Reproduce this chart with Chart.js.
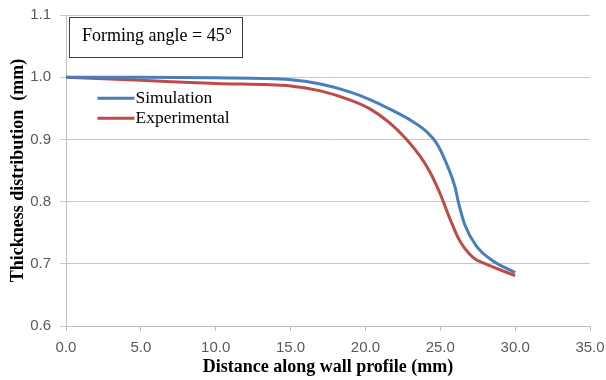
<!DOCTYPE html>
<html>
<head>
<meta charset="utf-8">
<script src="https://cdn.jsdelivr.net/npm/chart.js@4/dist/chart.umd.min.js"></script>
<style>
html,body{margin:0;padding:0;background:#fff}
#wrap{width:606px;height:380px}
</style>
</head>
<body>
<div id="wrap"><canvas id="c" width="606" height="380"></canvas></div>
<script>
// values
const simX=[0,5,10,15,17,19,20.3,21.6,23.0,24.1,24.75,25.4,26.0,26.2,26.65,27.4,28.5,30]
const simY=[1.000,1.000,0.999,0.996,0.989,0.976,0.964,0.949,0.931,0.912,0.894,0.862,0.822,0.800,0.762,0.729,0.705,0.686]
const expX=[0,5,10,15,17,19,20.3,21.6,22.75,23.65,24.3,24.95,25.2,25.65,26.3,27.2,28.1,30]
const expY=[1.000,0.995,0.990,0.986,0.978,0.963,0.949,0.927,0.900,0.873,0.848,0.815,0.800,0.772,0.737,0.710,0.699,0.681]
const seriesNames=['Simulation','Experimental']
const note='Forming angle = 45°'
const xTitle='Distance along wall profile (mm)'
const yTitle='Thickness distribution  (mm)'

const pts=(xs,ys)=>xs.map((x,i)=>({x:x,y:ys[i]}))

// legend + annotation box drawn inside the plot area
const extras={id:'extras',afterDraw(chart){
  const ctx=chart.ctx,xs=chart.scales.x,ys=chart.scales.y
  ctx.save()
  const bx=xs.getPixelForValue(0.2),by=ys.getPixelForValue(1.097)
  ctx.strokeStyle='#404040';ctx.lineWidth=1
  ctx.strokeRect(Math.round(bx)+0.5,Math.round(by)+0.5,173,40)
  ctx.fillStyle='#000';ctx.font='18px "Liberation Serif", serif'
  ctx.textBaseline='middle';ctx.textAlign='left'
  ctx.fillText(note,bx+13,by+19)
  chart.data.datasets.forEach((ds,i)=>{
    const y=ys.getPixelForValue(0.966)+i*20
    const x0=xs.getPixelForValue(2.1)
    ctx.strokeStyle=ds.borderColor;ctx.lineWidth=3
    ctx.beginPath();ctx.moveTo(x0,y);ctx.lineTo(x0+37,y);ctx.stroke()
    ctx.fillStyle='#000';ctx.font='17.5px "Liberation Serif", serif'
    ctx.fillText(ds.label,x0+38,y)
  })
  ctx.restore()
}}

new Chart(document.getElementById('c'),{
  type:'scatter',
  data:{datasets:[
    {label:seriesNames[0],data:pts(simX,simY),showLine:true,borderColor:'#4a7ebb',backgroundColor:'#4a7ebb',borderWidth:3,pointRadius:0,cubicInterpolationMode:'monotone'},
    {label:seriesNames[1],data:pts(expX,expY),showLine:true,borderColor:'#be4b48',backgroundColor:'#be4b48',borderWidth:3,pointRadius:0,cubicInterpolationMode:'monotone'}
  ]},
  options:{
    responsive:false,animation:false,
    layout:{padding:{left:0,right:16,top:15,bottom:0}},
    plugins:{legend:{display:false},tooltip:{enabled:false}},
    scales:{
      x:{type:'linear',min:0,max:35,
        ticks:{stepSize:5,color:'#595959',font:{family:'"Liberation Sans", Arial, sans-serif',size:15},padding:8,callback:v=>v.toFixed(1)},
        grid:{drawOnChartArea:false,color:'#bfbfbf',tickLength:5},
        border:{color:'#bfbfbf'},
        title:{display:true,text:xTitle,color:'#000',font:{family:'"Liberation Serif", serif',size:18,weight:'bold'},padding:{top:0,bottom:2}},
        afterFit(s){s.height=54;s.paddingLeft=0;s.paddingRight=0}
      },
      y:{min:0.6,max:1.1,
        ticks:{stepSize:0.1,color:'#595959',font:{family:'"Liberation Sans", Arial, sans-serif',size:15},padding:9,callback:v=>v.toFixed(1)},
        grid:{color:'#c8c8c8',tickLength:6},
        border:{color:'#bfbfbf'},
        title:{display:true,text:yTitle,color:'#000',font:{family:'"Liberation Serif", serif',size:18,weight:'bold'},padding:{top:8,bottom:0}},
        afterFit(s){s.width=66;s.paddingTop=0;s.paddingBottom=0}
      }
    }
  },
  plugins:[extras]
})
</script>
</body>
</html>
